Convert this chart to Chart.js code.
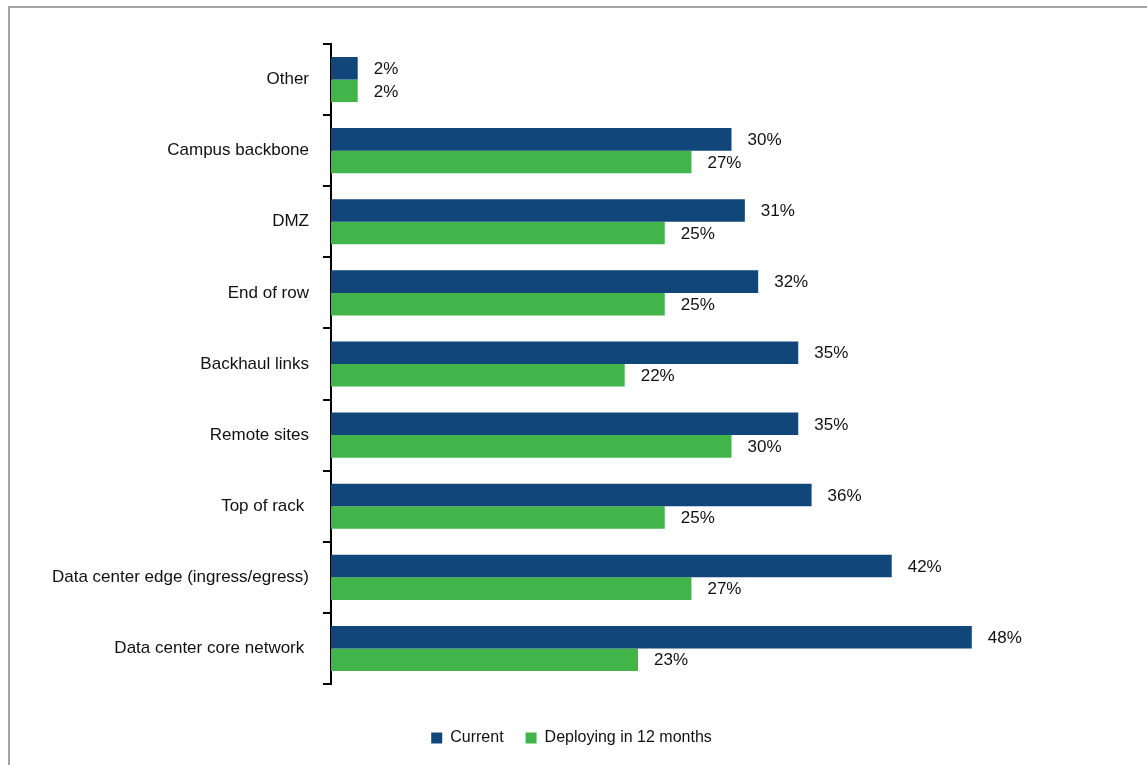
<!DOCTYPE html>
<html>
<head>
<meta charset="utf-8">
<script src="https://cdn.jsdelivr.net/npm/chart.js@4.4.1/dist/chart.umd.min.js"></script>
<style>
  body { margin: 0; background: #fff; overflow: hidden; }
  #frame {
    position: absolute; left: 8px; top: 6px; width: 2000px; height: 2000px;
    border-left: 2px solid #a3a3a3; border-top: 2px solid #a3a3a3;
  }
  #myBarChart { position: absolute; left: 0; top: 0; }
</style>
</head>
<body>
<div id="frame"></div>
<canvas id="myBarChart" width="1147" height="765"></canvas>
<script>
var categories = ['Other', 'Campus backbone', 'DMZ', 'End of row', 'Backhaul links',
    'Remote sites', 'Top of rack ', 'Data center edge (ingress/egress)', 'Data center core network '];
var current = [2, 30, 31, 32, 35, 35, 36, 42, 48];
var deploying = [2, 27, 25, 25, 22, 30, 25, 27, 23];

// writes "NN%" just right of each bar
var valueLabels = {
    id: 'valueLabels',
    afterDatasetsDraw: function (chart) {
        var ctx = chart.ctx;
        ctx.save();
        ctx.font = '17px "Liberation Sans", Arial, sans-serif';
        ctx.fillStyle = '#111';
        ctx.textAlign = 'left';
        ctx.textBaseline = 'middle';
        chart.data.datasets.forEach(function (ds, i) {
            chart.getDatasetMeta(i).data.forEach(function (bar, j) {
                ctx.fillText(ds.data[j] + '%', bar.x + 16, bar.y + 1);
            });
        });
        ctx.restore();
    }
};

var ctx = document.getElementById('myBarChart').getContext('2d');
var myBarChart = new Chart(ctx, {
    type: 'bar',
    data: {
        labels: categories,
        datasets: [{
            label: 'Current',
            data: current,
            backgroundColor: '#10467a'
        }, {
            label: 'Deploying in 12 months',
            data: deploying,
            backgroundColor: '#41b549'
        }]
    },
    options: {
        indexAxis: 'y',
        responsive: false,
        animation: false,
        barPercentage: 1,
        categoryPercentage: 0.634,
        layout: { padding: { left: 11, right: 15, top: 44, bottom: 9 } },
        scales: {
            x: {
                min: 0,
                max: 60,
                ticks: { display: false },
                grid: { display: false },
                border: { display: false },
                afterFit: function (scale) { scale.height = 24; }
            },
            y: {
                afterFit: function (scale) { scale.width = 320; },
                ticks: {
                    color: '#111',
                    padding: 14,
                    font: { family: '"Liberation Sans", Arial, sans-serif', size: 17 }
                },
                grid: {
                    drawOnChartArea: false,
                    drawTicks: true,
                    tickLength: 8,
                    color: '#000',
                    lineWidth: 2
                },
                border: { display: true, color: '#000', width: 2 }
            }
        },
        plugins: {
            legend: {
                position: 'bottom',
                labels: {
                    boxWidth: 11,
                    boxHeight: 11,
                    padding: 22,
                    color: '#111',
                    font: { family: '"Liberation Sans", Arial, sans-serif', size: 16 }
                }
            },
            tooltip: { enabled: false }
        }
    },
    plugins: [valueLabels]
});
</script>
</body>
</html>
